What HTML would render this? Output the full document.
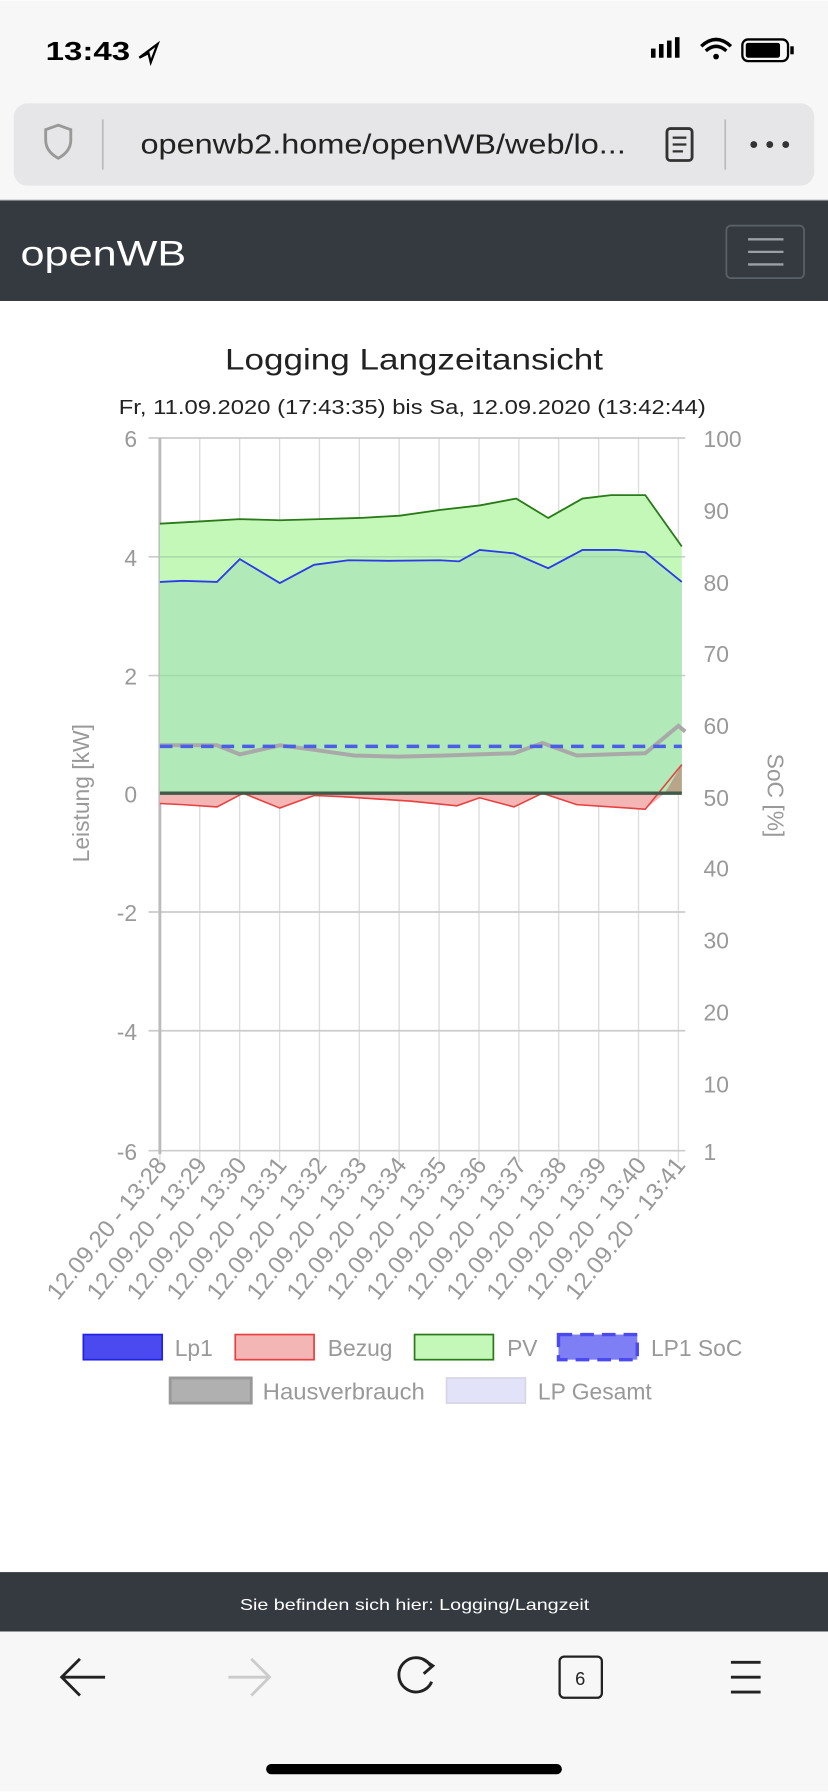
<!DOCTYPE html>
<html><head><meta charset="utf-8"><style>html,body{margin:0;padding:0;background:#fff}svg{display:block}</style></head>
<body>
<svg width="828" height="1792" viewBox="0 0 725 1568" xmlns="http://www.w3.org/2000/svg" font-family="Liberation Sans, sans-serif">
<rect width="725" height="1568" fill="#fff"/>
<rect width="725" height="175" fill="#f7f7f7"/>
<text x="40" y="52" font-size="23" font-weight="bold" fill="#000" textLength="74" lengthAdjust="spacingAndGlyphs">13:43</text>
<path d="M122 50 L138 38 L132 54 L130 46 Z" fill="none" stroke="#000" stroke-width="2"/>
<rect x="570" y="42" width="4" height="8" fill="#000"/><rect x="577" y="38" width="4" height="12" fill="#000"/><rect x="584" y="35" width="4" height="15" fill="#000"/><rect x="591" y="32" width="4" height="18" fill="#000"/>
<path d="M614 40 Q627 28 640 40 M618 44 Q627 36 636 44" stroke="#000" stroke-width="3" fill="none"/><circle cx="627" cy="49" r="2.5" fill="#000"/>
<rect x="650" y="34" width="40" height="19" rx="5" fill="none" stroke="#000" stroke-width="2"/><rect x="653" y="37" width="30" height="13" rx="2" fill="#000"/><rect x="692" y="40" width="3" height="7" fill="#000"/>
<rect x="12" y="90" width="701" height="72" rx="12" fill="#e6e6e8"/>
<path d="M40 113 L51 109 L62 113 L62 122 Q62 132 51 138 Q40 132 40 122 Z" fill="none" stroke="#999" stroke-width="2.5"/>
<line x1="90" y1="104" x2="90" y2="148" stroke="#bbb" stroke-width="1.5"/>
<text x="123" y="134" font-size="24" fill="#222" textLength="425" lengthAdjust="spacingAndGlyphs">openwb2.home/openWB/web/lo...</text>
<rect x="584" y="112" width="22" height="28" rx="3" fill="none" stroke="#333" stroke-width="2.5"/>
<line x1="589" y1="120" x2="601" y2="120" stroke="#333" stroke-width="2"/><line x1="589" y1="126" x2="601" y2="126" stroke="#333" stroke-width="2"/><line x1="589" y1="132" x2="598" y2="132" stroke="#333" stroke-width="2"/>
<line x1="635" y1="104" x2="635" y2="148" stroke="#bbb" stroke-width="1.5"/>
<circle cx="660" cy="126" r="3" fill="#333"/><circle cx="674" cy="126" r="3" fill="#333"/><circle cx="688" cy="126" r="3" fill="#333"/>
<rect x="0" y="174" width="725" height="1.5" fill="#ccc"/>
<rect x="0" y="175" width="725" height="88" fill="#343a40"/>
<text x="18" y="232" font-size="31" fill="#fff" textLength="145" lengthAdjust="spacingAndGlyphs">openWB</text>
<rect x="636" y="197" width="68" height="46" rx="4" fill="none" stroke="#5a6168" stroke-width="1.5"/>
<line x1="655" y1="209" x2="686" y2="209" stroke="#9aa0a6" stroke-width="2"/><line x1="655" y1="220" x2="686" y2="220" stroke="#9aa0a6" stroke-width="2"/><line x1="655" y1="231" x2="686" y2="231" stroke="#9aa0a6" stroke-width="2"/>
<text x="197" y="323" font-size="26" fill="#222" textLength="331" lengthAdjust="spacingAndGlyphs">Logging Langzeitansicht</text>
<text x="104" y="362" font-size="18" fill="#222" textLength="514" lengthAdjust="spacingAndGlyphs">Fr, 11.09.2020 (17:43:35) bis Sa, 12.09.2020 (13:42:44)</text>
<g stroke="#ddd" stroke-width="1.2">
<line x1="140" y1="383" x2="140" y2="1017"/><line x1="174.9" y1="383" x2="174.9" y2="1017"/><line x1="209.8" y1="383" x2="209.8" y2="1017"/><line x1="244.8" y1="383" x2="244.8" y2="1017"/><line x1="279.7" y1="383" x2="279.7" y2="1017"/><line x1="314.6" y1="383" x2="314.6" y2="1017"/><line x1="349.5" y1="383" x2="349.5" y2="1017"/><line x1="384.5" y1="383" x2="384.5" y2="1017"/><line x1="419.4" y1="383" x2="419.4" y2="1017"/><line x1="454.3" y1="383" x2="454.3" y2="1017"/><line x1="489.2" y1="383" x2="489.2" y2="1017"/><line x1="524.2" y1="383" x2="524.2" y2="1017"/><line x1="559.1" y1="383" x2="559.1" y2="1017"/><line x1="594" y1="383" x2="594" y2="1017"/>
</g>
<g stroke="#ccc" stroke-width="1.5">
<line x1="130" y1="383" x2="600" y2="383"/><line x1="130" y1="487" x2="600" y2="487"/><line x1="130" y1="591" x2="600" y2="591"/><line x1="130" y1="798" x2="600" y2="798"/><line x1="130" y1="902" x2="600" y2="902"/><line x1="130" y1="1007" x2="600" y2="1007"/>
</g>
<line x1="140" y1="383" x2="140" y2="1010" stroke="#bbb" stroke-width="2.5"/>
<path d="M140 458 L175 456 L210 454 L245 455 L280 454 L315 453 L350 451 L385 446 L420 442 L452 436 L480 453 L510 436 L535 433 L565 433 L597 478 L597 694 L140 694 Z" fill="#c4f8b8"/>
<path d="M140 509 L160 508 L190 509 L210 489 L245 510 L275 494 L305 490 L340 490.5 L385 490 L402 491 L420 481 L450 484 L480 497 L510 481 L540 481 L565 483 L597 509 L597 694 L140 694 Z" fill="#b2e9b8"/>
<g stroke="#a3d9a8" stroke-width="1.2"><line x1="140" y1="487" x2="597" y2="487"/><line x1="140" y1="591" x2="597" y2="591"/></g>
<path d="M140 458 L175 456 L210 454 L245 455 L280 454 L315 453 L350 451 L385 446 L420 442 L452 436 L480 453 L510 436 L535 433 L565 433 L597 478" fill="none" stroke="#2a7a1a" stroke-width="1.6"/>
<path d="M140 509 L160 508 L190 509 L210 489 L245 510 L275 494 L305 490 L340 490.5 L385 490 L402 491 L420 481 L450 484 L480 497 L510 481 L540 481 L565 483 L597 509" fill="none" stroke="#2b3be8" stroke-width="1.6"/>
<path d="M140 703 L160 704 L190 706 L213 694 L245 707 L275 696 L300 697 L360 701 L400 705 L420 698 L450 706 L475 694 L505 704 L565 708 L582 694 L140 694 Z" fill="#f4b6b4"/>
<path d="M582 694 L597 669 L597 694 Z" fill="#b8a58a"/>
<path d="M140 703 L160 704 L190 706 L213 694 L245 707 L275 696 L300 697 L360 701 L400 705 L420 698 L450 706 L475 694 L505 704 L565 708 L597 669" fill="none" stroke="#e84040" stroke-width="1.4"/>
<line x1="140" y1="694" x2="597" y2="694" stroke="#3f5a48" stroke-width="3"/>
<path d="M140 652 L190 652 L210 660 L245 652 L275 656 L310 661 L350 662 L390 661 L450 659 L475 650 L505 661 L565 659 L594 635 L600 640" fill="none" stroke="#a9a9a9" stroke-width="3.5"/>
<line x1="140" y1="653" x2="597" y2="653" stroke="#4a5ee8" stroke-width="3" stroke-dasharray="11,7"/>
<g font-size="20" fill="#999" text-anchor="end">
<text x="120" y="391">6</text><text x="120" y="495">4</text><text x="120" y="599">2</text><text x="120" y="702">0</text><text x="120" y="806">-2</text><text x="120" y="910">-4</text><text x="120" y="1015">-6</text>
</g>
<g font-size="20" fill="#999">
<text x="616" y="391">100</text><text x="616" y="454">90</text><text x="616" y="517">80</text><text x="616" y="579">70</text><text x="616" y="642">60</text><text x="616" y="705">50</text><text x="616" y="767">40</text><text x="616" y="830">30</text><text x="616" y="893">20</text><text x="616" y="956">10</text><text x="616" y="1015">1</text>
</g>
<text transform="translate(78,694) rotate(-90)" font-size="20" fill="#999" text-anchor="middle">Leistung [kW]</text>
<text transform="translate(672,696) rotate(90)" font-size="20" fill="#999" text-anchor="middle">SoC [%]</text>
<g font-size="21" fill="#999" text-anchor="end">
<text transform="translate(147,1020) rotate(-51)">12.09.20 - 13:28</text>
<text transform="translate(182,1020) rotate(-51)">12.09.20 - 13:29</text>
<text transform="translate(217,1020) rotate(-51)">12.09.20 - 13:30</text>
<text transform="translate(252,1020) rotate(-51)">12.09.20 - 13:31</text>
<text transform="translate(287,1020) rotate(-51)">12.09.20 - 13:32</text>
<text transform="translate(322,1020) rotate(-51)">12.09.20 - 13:33</text>
<text transform="translate(357,1020) rotate(-51)">12.09.20 - 13:34</text>
<text transform="translate(392,1020) rotate(-51)">12.09.20 - 13:35</text>
<text transform="translate(427,1020) rotate(-51)">12.09.20 - 13:36</text>
<text transform="translate(462,1020) rotate(-51)">12.09.20 - 13:37</text>
<text transform="translate(497,1020) rotate(-51)">12.09.20 - 13:38</text>
<text transform="translate(532,1020) rotate(-51)">12.09.20 - 13:39</text>
<text transform="translate(567,1020) rotate(-51)">12.09.20 - 13:40</text>
<text transform="translate(601,1020) rotate(-51)">12.09.20 - 13:41</text>
</g>
<g font-size="20" fill="#999">
<rect x="73" y="1168" width="69" height="22" fill="#4a4af0" stroke="#2222e0" stroke-width="1.5"/><text x="153" y="1187">Lp1</text>
<rect x="206" y="1168" width="69" height="22" fill="#f4b6b4" stroke="#e84040" stroke-width="1.5"/><text x="287" y="1187">Bezug</text>
<rect x="363" y="1168" width="69" height="22" fill="#c4f8b8" stroke="#2a7a1a" stroke-width="1.5"/><text x="444" y="1187">PV</text>
<rect x="489" y="1168" width="69" height="22" fill="#7f7ff5" stroke="#4a4af0" stroke-width="3" stroke-dasharray="12,7"/><text x="570" y="1187">LP1 SoC</text>
<rect x="149" y="1206" width="71" height="22" fill="#b0b0b0" stroke="#999" stroke-width="2.5"/><text x="230" y="1225" textLength="142" lengthAdjust="spacingAndGlyphs">Hausverbrauch</text>
<rect x="391" y="1206" width="69" height="22" fill="#e2e2f8" stroke="#d6d6e6" stroke-width="1.5"/><text x="471" y="1225">LP Gesamt</text>
</g>
<rect x="0" y="1376" width="725" height="52" fill="#343a40"/>
<text x="210" y="1409" font-size="14" fill="#fff" textLength="306" lengthAdjust="spacingAndGlyphs">Sie befinden sich hier: Logging/Langzeit</text>
<rect x="0" y="1428" width="725" height="140" fill="#f7f7f7"/>
<path d="M92 1468 L54 1468 M70 1452 L54 1468 L70 1484" stroke="#222" stroke-width="2.5" fill="none"/>
<path d="M236 1468 L200 1468 M220 1452 L236 1468 L220 1484" stroke="#ccc" stroke-width="2.5" fill="none"/>
<path d="M377 1458 A15 15 0 1 0 378 1472" stroke="#222" stroke-width="2.5" fill="none"/><path d="M370 1452 L379 1458 L371 1465" stroke="#222" stroke-width="2.5" fill="none"/>
<rect x="490" y="1450" width="37" height="36" rx="4" fill="none" stroke="#222" stroke-width="2"/><text x="508" y="1475" font-size="16" text-anchor="middle" fill="#222">6</text>
<g stroke="#222" stroke-width="2.5"><line x1="640" y1="1455" x2="666" y2="1455"/><line x1="640" y1="1468" x2="666" y2="1468"/><line x1="640" y1="1481" x2="666" y2="1481"/></g>
<rect x="233" y="1544" width="259" height="9" rx="4.5" fill="#000"/>
</svg>
</body></html>
